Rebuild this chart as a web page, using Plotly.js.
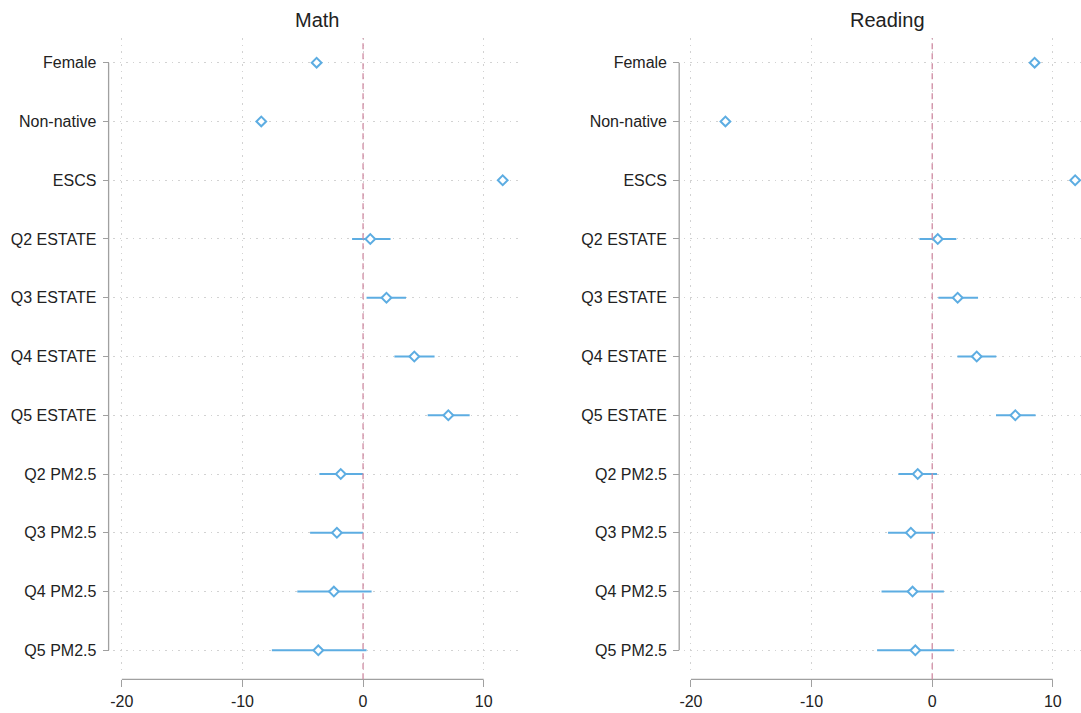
<!DOCTYPE html>
<html><head><meta charset="utf-8">
<script src="https://cdn.plot.ly/plotly-3.0.1.min.js"></script>
<style>html,body{margin:0;padding:0;overflow:hidden;background:#fff}</style>
</head><body><div id="chart"></div>
<script>
// ---- data ----
const categories = ["Female","Non-native","ESCS","Q2 ESTATE","Q3 ESTATE","Q4 ESTATE","Q5 ESTATE","Q2 PM2.5","Q3 PM2.5","Q4 PM2.5","Q5 PM2.5"];
const mathCoef = [-3.85,-8.44,11.58,0.60,1.94,4.25,7.07,-1.85,-2.17,-2.42,-3.71];
const mathLow  = [-4.00,-8.60,11.43,-0.91,0.29,2.60,5.36,-3.62,-4.39,-5.45,-7.56];
const mathHigh = [-3.70,-8.28,11.73,2.28,3.56,5.93,8.84,0.00,0.00,0.71,0.29];
const readCoef = [8.49,-17.14,11.85,0.46,2.11,3.69,6.89,-1.20,-1.77,-1.63,-1.40];
const readLow  = [8.34,-17.30,11.70,-1.06,0.51,2.09,5.29,-2.80,-3.66,-4.20,-4.57];
const readHigh = [8.64,-16.98,12.00,2.00,3.80,5.31,8.57,0.40,0.23,0.97,1.83];
const tickVals = [-20,-10,0,10];
const panelTitles = ["Math","Reading"];

// ---- styling ----
const W = 1092, H = 713;
const blue = "#5dade2";
const font = "Liberation Sans, Arial, sans-serif";
const txt = "#222";
const gridC = "#d2d2d2";
const axC = "#a0a0a0";

function trace(coef, low, high, xa, ya){
  return {
    type: "scatter", mode: "markers",
    x: coef, y: categories, xaxis: xa, yaxis: ya,
    marker: {symbol: "diamond", size: 7.5, color: "#ffffff", line: {color: blue, width: 2}},
    error_x: {type: "data", symmetric: false,
      array: high.map((h,i)=>h-coef[i]),
      arrayminus: low.map((l,i)=>coef[i]-l),
      color: blue, thickness: 2, width: 0},
    showlegend: false, hoverinfo: "x+y"
  };
}

const yDom = [(H-670)/H, (H-38.3)/H];
const xPos = (H-679.3)/H;
const panels = [
  {dom: [113.4/W, 520.8/W], range: [-20.7, 13.08], yPos: 108.6/W},
  {dom: [683.7/W, 1091.2/W], range: [-20.6, 13.18], yPos: 679.2/W}
];

function xax(p){
  return {domain: p.dom, range: p.range, anchor: "free", position: xPos,
    tickmode: "array", tickvals: tickVals, ticktext: tickVals.map(String),
    ticks: "outside", ticklen: 7, tickwidth: 1, tickcolor: axC,
    tickfont: {family: font, size: 16, color: txt},
    showgrid: true, gridcolor: gridC, griddash: "1.5px,5px", gridwidth: 1,
    zeroline: false, showline: false, fixedrange: true};
}
function yax(p){
  return {domain: yDom, type: "category", categoryorder: "array", categoryarray: categories,
    range: [categories.length - 1 + 0.335, -0.415], anchor: "free", position: p.yPos,
    ticks: "outside", ticklen: 6, tickwidth: 1, tickcolor: axC, ticklabelstandoff: 3,
    tickfont: {family: font, size: 16, color: txt},
    showgrid: true, gridcolor: gridC, griddash: "1.5px,5px", gridwidth: 1,
    zeroline: false, showline: false, fixedrange: true};
}

const shapes = [];
const annotations = [];
["", "2"].forEach((s, k) => {
  const p = panels[k];
  shapes.push({type: "line", xref: "x"+s, yref: "paper",
    x0: tickVals[0], x1: tickVals[tickVals.length-1], y0: xPos, y1: xPos,
    line: {color: axC, width: 1.3}});
  shapes.push({type: "line", xref: "paper", yref: "y"+s,
    x0: p.yPos, x1: p.yPos, y0: categories[0], y1: categories[categories.length-1],
    line: {color: axC, width: 1.3}});
  shapes.push({type: "line", xref: "x"+s, yref: "paper",
    x0: 0, x1: 0, y0: xPos, y1: yDom[1],
    line: {color: "#cf8aa2", width: 1.3, dash: "6px,4px"}});
  annotations.push({text: panelTitles[k], xref: "paper", yref: "paper",
    x: (p.dom[0]+p.dom[1])/2, y: 1 - 20/H, xanchor: "center", yanchor: "middle",
    showarrow: false, font: {family: font, size: 20, color: txt}});
});

const data = [
  trace(mathCoef, mathLow, mathHigh, "x", "y"),
  trace(readCoef, readLow, readHigh, "x2", "y2")
];
const layout = {
  width: W, height: H, margin: {l: 0, r: 0, t: 0, b: 0},
  paper_bgcolor: "#fff", plot_bgcolor: "#fff",
  xaxis: xax(panels[0]), yaxis: yax(panels[0]),
  xaxis2: xax(panels[1]), yaxis2: yax(panels[1]),
  shapes: shapes, annotations: annotations, showlegend: false
};
Plotly.newPlot("chart", data, layout, {displayModeBar: false, staticPlot: true});
</script>
</body></html>
